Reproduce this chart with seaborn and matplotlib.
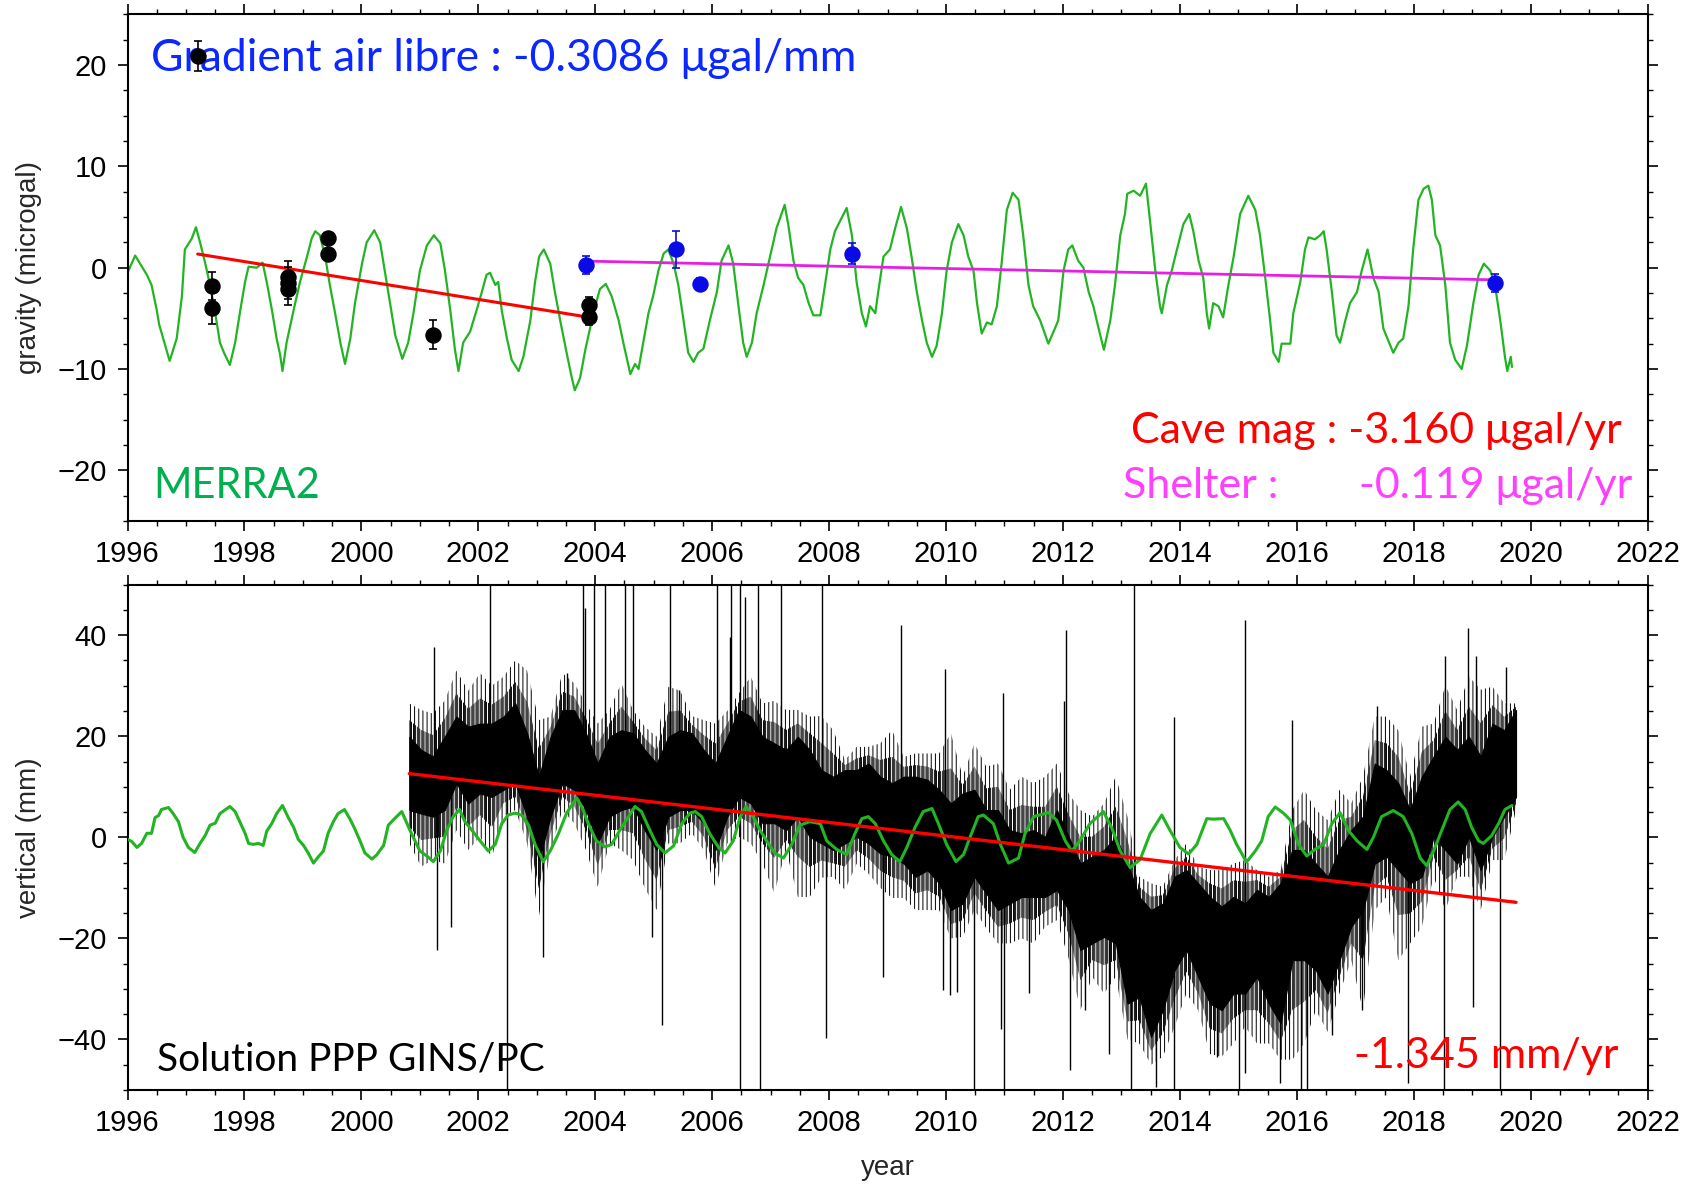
import numpy as np
import matplotlib
matplotlib.use("Agg")
import matplotlib.pyplot as plt
import seaborn as sns
from matplotlib.ticker import MultipleLocator

# ---------------- gravity panel ----------------
# MERRA2 hydrological gravity effect (microgal)
merra_grav_t = [
    1996.00, 1996.13, 1996.33, 1996.41, 1996.50, 1996.54, 1996.72, 1996.84, 1996.93, 1996.98,
    1997.10, 1997.17, 1997.24, 1997.33, 1997.41, 1997.50, 1997.58, 1997.65, 1997.75, 1997.84,
    1997.92, 1998.01, 1998.07, 1998.21, 1998.31, 1998.38, 1998.47, 1998.55, 1998.61, 1998.65,
    1998.72, 1998.84, 1998.95, 1999.07, 1999.15, 1999.21, 1999.29, 1999.38, 1999.46, 1999.55,
    1999.64, 1999.72, 1999.81, 1999.89, 2000.01, 2000.09, 2000.22, 2000.32, 2000.40, 2000.49,
    2000.58, 2000.70, 2000.80, 2000.89, 2001.00, 2001.12, 2001.24, 2001.35, 2001.43, 2001.52,
    2001.60, 2001.66, 2001.74, 2001.86, 2001.97, 2002.06, 2002.14, 2002.20, 2002.29, 2002.34,
    2002.40, 2002.49, 2002.57, 2002.69, 2002.77, 2002.89, 2002.97, 2003.04, 2003.12, 2003.23,
    2003.31, 2003.40, 2003.51, 2003.60, 2003.65, 2003.74, 2003.83, 2003.91, 2004.00, 2004.08,
    2004.18, 2004.28, 2004.40, 2004.48, 2004.60, 2004.68, 2004.74, 2004.82, 2004.91, 2004.99,
    2005.08, 2005.17, 2005.25, 2005.34, 2005.42, 2005.51, 2005.59, 2005.68, 2005.76, 2005.85,
    2005.96, 2006.08, 2006.16, 2006.28, 2006.36, 2006.45, 2006.53, 2006.59, 2006.68, 2006.76,
    2006.88, 2006.99, 2007.10, 2007.24, 2007.30, 2007.39, 2007.47, 2007.56, 2007.65, 2007.73,
    2007.85, 2007.93, 2008.02, 2008.10, 2008.30, 2008.39, 2008.47, 2008.56, 2008.63, 2008.70,
    2008.79, 2008.84, 2008.93, 2009.04, 2009.13, 2009.23, 2009.33, 2009.41, 2009.50, 2009.59,
    2009.67, 2009.76, 2009.84, 2009.93, 2010.01, 2010.10, 2010.21, 2010.30, 2010.38, 2010.47,
    2010.53, 2010.61, 2010.70, 2010.78, 2010.87, 2010.95, 2011.04, 2011.14, 2011.24, 2011.32,
    2011.41, 2011.49, 2011.61, 2011.75, 2011.84, 2011.92, 2012.01, 2012.09, 2012.16, 2012.26,
    2012.35, 2012.44, 2012.52, 2012.61, 2012.70, 2012.81, 2012.89, 2012.98, 2013.06, 2013.10,
    2013.21, 2013.32, 2013.42, 2013.49, 2013.58, 2013.66, 2013.69, 2013.78, 2013.86, 2013.95,
    2014.06, 2014.16, 2014.23, 2014.32, 2014.40, 2014.46, 2014.50, 2014.57, 2014.66, 2014.74,
    2014.83, 2014.92, 2015.03, 2015.17, 2015.29, 2015.37, 2015.46, 2015.54, 2015.60, 2015.69,
    2015.74, 2015.89, 2015.94, 2016.06, 2016.14, 2016.20, 2016.31, 2016.40, 2016.46, 2016.51,
    2016.60, 2016.68, 2016.74, 2016.83, 2016.91, 2017.03, 2017.11, 2017.21, 2017.31, 2017.40,
    2017.48, 2017.65, 2017.74, 2017.82, 2017.91, 2017.99, 2018.08, 2018.17, 2018.25, 2018.31,
    2018.37, 2018.45, 2018.54, 2018.62, 2018.71, 2018.82, 2018.91, 2019.02, 2019.11, 2019.20,
    2019.31, 2019.39, 2019.48, 2019.56, 2019.60, 2019.66, 2019.68,
]
merra_grav_v = [
    -0.5, 1.2, -0.7, -1.7, -4.2, -5.6, -9.2, -7.0, -2.8, 1.8,
    2.9, 4.0, 2.5, 0.4, -1.7, -4.5, -7.4, -8.4, -9.6, -7.4,
    -4.5, -1.4, 0.1, 0.0, 0.5, -1.4, -4.2, -7.0, -8.6, -10.2,
    -7.4, -4.2, -1.4, 1.1, 2.9, 3.6, 3.2, 1.1, -1.7, -4.5,
    -7.4, -9.5, -7.0, -3.5, 0.4, 2.5, 3.7, 2.5, -0.3, -3.5,
    -6.7, -9.0, -7.4, -4.5, -0.3, 2.2, 3.2, 2.4, -0.3, -4.2,
    -8.1, -10.2, -7.4, -6.3, -4.2, -2.4, -0.7, -0.5, -1.7, -1.4,
    -4.2, -7.0, -9.1, -10.2, -8.8, -5.2, -1.4, 1.1, 1.8, 0.4,
    -2.4, -5.2, -8.4, -10.9, -12.1, -10.9, -8.1, -6.0, -3.8, -2.1,
    -1.6, -2.8, -5.2, -7.4, -10.5, -9.5, -10.0, -7.4, -4.5, -2.8,
    -0.3, 1.4, 1.8, 0.4, -1.7, -5.2, -8.4, -9.3, -8.4, -8.0,
    -5.2, -2.4, 0.7, 2.2, 0.4, -3.8, -7.4, -8.8, -7.4, -4.5,
    -1.7, 1.1, 3.9, 6.2, 4.3, 0.7, -1.0, -1.7, -3.5, -4.7,
    -4.7, -1.7, 1.8, 3.6, 5.9, 3.2, -1.4, -4.5, -5.8, -3.8,
    -4.5, -2.4, 1.1, 1.8, 3.9, 6.0, 3.9, 1.1, -2.4, -5.2,
    -7.4, -8.8, -7.7, -4.5, -0.3, 2.5, 4.3, 3.2, 1.1, -0.3,
    -3.5, -6.5, -5.4, -5.6, -3.8, 0.4, 5.7, 7.4, 6.7, 3.2,
    -1.7, -3.8, -5.2, -7.5, -6.3, -5.2, -0.3, 1.8, 2.2, 0.7,
    0.0, -2.4, -3.8, -6.0, -8.1, -5.2, -1.7, 3.2, 5.3, 7.3,
    7.6, 7.1, 8.3, 4.6, -0.3, -3.8, -4.5, -1.7, -0.3, 1.8,
    4.3, 5.3, 3.6, 0.7, -1.0, -4.5, -6.0, -3.5, -3.8, -4.9,
    -1.7, 1.1, 5.3, 7.1, 5.7, 3.2, -1.0, -5.0, -8.4, -9.3,
    -7.5, -7.5, -4.5, -1.4, 1.8, 3.0, 2.8, 3.2, 3.6, 1.8,
    -2.4, -6.7, -7.4, -5.2, -3.5, -2.4, -0.3, 1.8, -1.0, -2.4,
    -6.0, -8.4, -7.4, -7.0, -3.8, 1.8, 6.7, 7.8, 8.1, 6.7,
    3.2, 2.2, -1.7, -7.4, -9.1, -10.0, -7.7, -3.5, -0.7, 0.4,
    -0.3, -1.7, -5.2, -8.8, -10.2, -8.8, -9.8,
]

# absolute gravity measurements: cave magnetometer room (black) and shelter (blue)
cave_t = [1997.21, 1997.45, 1997.45, 1998.75, 1998.75, 1998.75, 1999.43, 1999.43, 2001.23, 2003.90, 2003.90]
cave_v = [20.9, -1.8, -4.0, -0.9, -1.5, -2.1, 2.9, 1.4, -6.6, -3.7, -4.9]
cave_err = [1.5, 1.4, 1.6, 1.6, 1.6, 1.6, 0.4, 0.4, 1.4, 0.8, 0.8]

shelter_t = [2003.85, 2005.38, 2005.79, 2008.40, 2019.39]
shelter_v = [0.3, 1.8, -1.65, 1.4, -1.5]
shelter_err = [0.9, 1.8, 0.6, 1.0, 0.9]

# fitted trends
cave_trend_t = [1997.2, 2003.9]
cave_trend_v = [1.35, -4.9]
shelter_trend_t = [2003.85, 2019.4]
shelter_trend_start = 0.65
shelter_rate = -0.119          # microgal / yr

# ---------------- vertical GPS panel ----------------
merra_vert_t = [
    1996.00, 1996.07, 1996.16, 1996.24, 1996.33, 1996.41, 1996.47, 1996.53, 1996.58, 1996.70,
    1996.78, 1996.87, 1996.95, 1997.04, 1997.15, 1997.24, 1997.33, 1997.41, 1997.50, 1997.58,
    1997.75, 1997.84, 1997.92, 1998.01, 1998.07, 1998.15, 1998.24, 1998.32, 1998.38, 1998.47,
    1998.55, 1998.65, 1998.75, 1998.84, 1998.92, 1999.01, 1999.09, 1999.18, 1999.26, 1999.35,
    1999.43, 1999.52, 1999.60, 1999.71, 1999.81, 1999.89, 1999.98, 2000.06, 2000.18, 2000.26,
    2000.38, 2000.46, 2000.55, 2000.69, 2000.83, 2001.00, 2001.12, 2001.23, 2001.35, 2001.46,
    2001.57, 2001.68, 2001.77, 2001.89, 2002.03, 2002.17, 2002.29, 2002.40, 2002.51, 2002.63,
    2002.74, 2002.86, 2002.97, 2003.11, 2003.23, 2003.37, 2003.51, 2003.68, 2003.77, 2003.88,
    2004.02, 2004.17, 2004.28, 2004.42, 2004.57, 2004.68, 2004.79, 2004.91, 2005.05, 2005.19,
    2005.34, 2005.48, 2005.62, 2005.71, 2005.82, 2005.96, 2006.11, 2006.22, 2006.36, 2006.48,
    2006.58, 2006.70, 2006.82, 2006.93, 2007.07, 2007.22, 2007.36, 2007.50, 2007.67, 2007.85,
    2007.96, 2008.13, 2008.30, 2008.44, 2008.56, 2008.67, 2008.79, 2008.93, 2009.07, 2009.21,
    2009.33, 2009.47, 2009.61, 2009.76, 2009.87, 2010.01, 2010.17, 2010.30, 2010.41, 2010.55,
    2010.64, 2010.81, 2010.93, 2011.07, 2011.24, 2011.35, 2011.50, 2011.75, 2011.89, 2012.04,
    2012.15, 2012.29, 2012.46, 2012.69, 2012.83, 2012.98, 2013.15, 2013.32, 2013.49, 2013.69,
    2013.83, 2014.00, 2014.15, 2014.29, 2014.46, 2014.57, 2014.75, 2014.86, 2014.97, 2015.14,
    2015.29, 2015.40, 2015.51, 2015.63, 2015.77, 2015.89, 2016.03, 2016.17, 2016.31, 2016.46,
    2016.60, 2016.74, 2016.88, 2017.03, 2017.20, 2017.31, 2017.45, 2017.65, 2017.82, 2017.97,
    2018.11, 2018.22, 2018.34, 2018.48, 2018.62, 2018.76, 2018.88, 2018.99, 2019.11, 2019.19,
    2019.33, 2019.45, 2019.56, 2019.68,
]
merra_vert_v = [
    -0.4, -0.8, -2.0, -1.2, 0.8, 0.8, 3.9, 4.3, 5.5, 5.9,
    4.7, 3.1, 0.0, -2.0, -3.0, -1.2, 0.4, 2.4, 2.8, 4.7,
    6.1, 5.1, 3.1, 0.8, -1.2, -1.4, -1.2, -1.6, 1.2, 2.8,
    4.7, 6.3, 3.9, 2.0, -0.4, -1.6, -3.1, -5.1, -3.9, -2.7,
    0.8, 3.1, 4.7, 5.5, 3.5, 1.6, -0.8, -3.1, -4.3, -3.5,
    -1.6, 2.4, 3.5, 5.1, 1.4, -2.7, -3.7, -4.8, -2.7, 1.4,
    4.1, 5.5, 3.1, 1.4, -0.7, -2.7, -1.4, 2.7, 4.4, 4.8,
    4.4, 2.4, -1.4, -4.8, -2.7, 0.7, 4.8, 7.8, 6.1, 2.7,
    -0.7, -1.9, -1.4, 1.4, 4.1, 6.1, 5.1, 2.0, -1.4, -3.1,
    -1.7, 2.7, 4.8, 5.1, 4.1, 0.7, -2.0, -3.1, -0.7, 4.1,
    6.1, 4.1, 1.4, -0.7, -3.1, -4.1, -1.4, 2.4, 3.1, 2.7,
    -0.7, -2.4, -3.4, 0.7, 3.7, 4.1, 2.7, -0.7, -3.4, -4.8,
    -2.0, 2.0, 5.1, 5.7, 2.7, -1.4, -4.8, -3.4, 0.0, 4.1,
    4.4, 2.7, -1.4, -5.1, -4.1, 0.7, 4.1, 4.9, 3.4, -0.7,
    -2.7, -0.7, 2.7, 5.1, 2.0, -2.7, -6.0, -4.4, 0.7, 4.4,
    1.4, -2.0, -3.3, -1.4, 3.7, 3.6, 3.7, 1.4, -1.4, -4.9,
    -2.7, -0.7, 4.1, 6.0, 4.8, 3.4, -1.4, -3.7, -2.4, -1.4,
    2.7, 4.9, 1.4, -0.7, -2.4, 0.0, 4.1, 5.3, 4.1, 0.7,
    -4.1, -5.6, -2.7, 1.4, 5.5, 7.0, 5.5, 2.0, -0.7, -1.2,
    0.3, 2.7, 5.5, 6.3,
]

# GINS/PC PPP daily heights, summarised every ~0.2 yr:
# dense band (core) and extent of the scatter (outer), in mm
gps_core_hi = [
    19.9, 17.3, 16.0, 19.9, 23.9, 21.9, 22.5, 22.5, 23.9, 26.5,
    20.6, 12.0, 19.9, 25.2, 25.2, 20.6, 14.6, 19.9, 21.2, 20.6,
    17.3, 14.6, 19.9, 21.2, 20.6, 17.3, 14.6, 19.9, 25.2, 23.9,
    19.9, 18.6, 17.3, 19.9, 17.3, 13.3, 12.0, 13.3, 13.3, 14.6,
    12.0, 10.7, 12.0, 12.0, 11.4, 9.4, 6.7, 8.7, 9.4, 5.4,
    5.4, 1.4, 0.8, 1.4, 0.1, 5.4, 0.1, -5.2, -3.8, -2.5,
    0.1, -5.2, -11.8, -14.4, -13.1, -7.8, -6.5, -9.1, -11.8, -13.7,
    -11.8, -13.1, -10.4, -11.8, -9.1, -2.5, -2.5, -5.2, -7.8, -2.5,
    1.4, 4.1, 14.6, 13.3, 10.7, 5.4, 12.0, 16.0, 19.9, 17.3,
    19.9, 16.0, 22.5, 21.2, 25.2,
]
gps_core_lo = [
    5.4, 4.7, 4.1, 5.4, 10.7, 6.7, 8.7, 8.0, 9.4, 10.7,
    4.1, -4.5, 4.1, 10.7, 9.4, 5.4, -1.2, 4.1, 5.4, 6.1,
    1.4, -2.5, 4.1, 5.4, 5.4, 2.8, -2.5, 4.1, 8.0, 6.7,
    2.8, 2.8, 1.4, 4.1, 0.1, -1.2, -2.5, -1.2, 0.1, -1.2,
    -3.2, -3.8, -5.2, -7.8, -6.5, -9.1, -14.4, -13.1, -7.8, -11.1,
    -14.4, -13.1, -11.8, -11.8, -11.8, -10.4, -14.4, -22.3, -21.0, -19.7,
    -21.0, -32.9, -31.6, -39.5, -34.2, -26.3, -22.3, -27.6, -32.9, -34.2,
    -30.9, -30.9, -27.6, -32.9, -36.8, -24.3, -24.3, -26.3, -30.9, -24.3,
    -17.7, -14.4, -5.2, -3.8, -6.5, -9.1, -7.8, 0.1, -2.5, -5.2,
    0.1, -6.5, 0.1, 4.1, 8.0,
]
gps_outer_hi = [
    26.5, 25.2, 24.5, 27.0, 33.0, 29.0, 32.5, 30.0, 31.8, 35.0,
    33.0, 23.2, 23.9, 32.5, 30.5, 26.5, 22.5, 25.2, 30.5, 25.2,
    21.9, 19.9, 29.8, 29.0, 24.0, 23.2, 22.5, 25.0, 28.5, 31.8,
    26.5, 27.0, 25.2, 25.2, 23.9, 24.0, 21.2, 15.3, 17.9, 17.9,
    18.6, 21.2, 15.9, 16.6, 16.6, 16.6, 20.6, 12.0, 18.6, 14.0,
    14.6, 9.4, 12.0, 10.7, 12.0, 14.6, 8.7, 5.4, 4.1, 6.7,
    12.0, 4.1, -7.8, -9.1, -9.8, -4.5, -1.2, -5.8, -6.5, -6.5,
    -5.2, -4.5, -6.5, -7.8, -6.5, 5.4, 9.4, 5.4, 3.4, 9.4,
    6.7, 12.0, 23.9, 23.9, 21.2, 12.0, 21.9, 22.5, 30.0, 25.2,
    31.8, 29.2, 29.8, 26.5, 26.5,
]
gps_outer_lo = [
    -1.2, -5.8, -4.5, -5.2, 1.4, -2.5, 0.1, -4.0, 4.1, 5.4,
    -1.2, -15.7, -2.5, 5.4, 2.8, -2.5, -9.8, -1.2, -2.5, -4.5,
    -10.0, -14.4, -1.2, -1.2, 0.8, -2.5, -10.0, -1.2, 0.1, -1.2,
    -5.2, -11.0, -2.5, -11.8, -11.8, -8.0, -7.8, -10.4, -5.2, -7.2,
    -10.0, -12.0, -12.0, -14.4, -14.4, -14.4, -20.0, -19.7, -14.4, -18.0,
    -21.0, -21.0, -20.0, -21.0, -17.7, -16.4, -24.0, -34.2, -27.6, -30.9,
    -27.6, -40.0, -40.8, -45.0, -43.4, -37.5, -30.9, -34.2, -42.9, -43.4,
    -40.8, -37.5, -40.8, -40.8, -44.0, -44.0, -40.8, -34.2, -38.5, -30.9,
    -24.3, -34.2, -14.4, -11.8, -24.3, -21.0, -17.7, -7.8, -14.4, -7.8,
    -7.8, -14.4, -4.5, -4.5, 5.4,
]
gps_start, gps_end = 2000.82, 2019.75

# isolated outliers (year, mm)
spike_t = [
    2001.25, 2001.29, 2001.53, 2002.20, 2002.49, 2003.11, 2003.51, 2003.79, 2003.83, 2003.98,
    2004.17, 2004.51, 2004.65, 2004.97, 2005.15, 2005.27, 2005.43, 2006.08, 2006.30, 2006.32,
    2006.47, 2006.47, 2006.56, 2006.79, 2006.81, 2007.17, 2007.87, 2007.95, 2008.92, 2009.23,
    2009.95, 2009.98, 2010.06, 2010.18, 2010.47, 2010.94, 2010.97, 2010.99, 2011.42, 2012.02,
    2012.06, 2012.12, 2012.38, 2012.79, 2013.16, 2013.22, 2013.59, 2013.90, 2013.90, 2014.64,
    2015.01, 2015.11, 2015.11, 2015.71, 2015.91, 2016.07, 2016.17, 2016.60, 2017.11, 2017.37,
    2017.91, 2018.51, 2018.54, 2018.92, 2019.02, 2019.06, 2019.48, 2019.58,
]
spike_v = [
    37.7, -22.3, -17.7, 55, -55, -23.6, 32.5, 55, 45.3, 55,
    55, 55, 55, -19.7, -37.2, 55, 29.2, 55, 39.7, 55,
    55, -55, 47.6, 55, -55, 55, 55, -39.8, -27.6, 42.0,
    -30.2, 33.4, -31.2, -30.6, -55, -38.0, 28.5, -55, -30.9, 27.0,
    41.0, -46.0, -34.2, -42.9, -55, 55, -49.4, 23.9, -55, -43.4,
    -55, 43.0, -46.7, -48.7, 23.2, -55, -55, -39.2, -34.2, 25.9,
    -48.7, -55, 35.8, 41.4, -33.5, 35.8, -55, 33.8,
]

gps_trend_start = 12.6
gps_rate = -1.345             # mm / yr

# ---------------- styling ----------------
GREEN = "#22b422"
RED = "#ff0000"
MAGENTA = "#e61ee6"
BLUE = "#0a0ae6"

sns.set_theme(style="ticks")
plt.rcParams["font.family"] = ["Liberation Sans", "DejaVu Sans"]
plt.rcParams["hatch.linewidth"] = 0.7
plt.rcParams["axes.unicode_minus"] = True

fig = plt.figure(figsize=(16.94, 11.84), dpi=100)
ax1 = fig.add_axes([0.0753, 0.5600, 0.8973, 0.4278])
ax2 = fig.add_axes([0.0753, 0.0794, 0.8973, 0.4268])

TICK_FS = 21
LABEL_FS = 20


def frame(ax, ymin, ymax, ymaj, ymin_step):
    ax.set_xlim(1996, 2022)
    ax.set_ylim(ymin, ymax)
    ax.xaxis.set_major_locator(MultipleLocator(2))
    ax.xaxis.set_minor_locator(MultipleLocator(0.5))
    ax.yaxis.set_major_locator(MultipleLocator(ymaj))
    ax.yaxis.set_minor_locator(MultipleLocator(ymin_step))
    ax.tick_params(which="both", direction="out", top=True, right=True,
                   labeltop=False, labelright=False, colors="black", labelsize=TICK_FS)
    ax.tick_params(which="major", length=7, width=1.2)
    ax.tick_params(which="minor", length=3.5, width=1.0)
    ax.tick_params(axis="x", pad=7)
    ax.tick_params(axis="y", pad=8)
    for s in ax.spines.values():
        s.set_linewidth(1.5)
        s.set_color("black")
    ax.grid(False)
    ax.set_facecolor("white")


frame(ax1, -25, 25, 10, 2.5)
frame(ax2, -50, 50, 20, 5)

# ---- top panel ----
sns.lineplot(x=merra_grav_t, y=merra_grav_v, ax=ax1, color=GREEN, lw=1.6,
             sort=False, estimator=None, zorder=2)
sns.lineplot(x=cave_trend_t, y=cave_trend_v, ax=ax1, color=RED, lw=2.2,
             sort=False, estimator=None, zorder=3)
sh_t = np.array(shelter_trend_t)
sh_v = shelter_trend_start + shelter_rate * (sh_t - sh_t[0])
sns.lineplot(x=sh_t, y=sh_v, ax=ax1, color=MAGENTA, lw=2.0,
             sort=False, estimator=None, zorder=3)

ax1.errorbar(cave_t, cave_v, yerr=cave_err, fmt="none", ecolor="black",
             elinewidth=1.2, capsize=3, capthick=1.2, zorder=4)
ax1.errorbar(shelter_t, shelter_v, yerr=shelter_err, fmt="none", ecolor=BLUE,
             elinewidth=1.2, capsize=3, capthick=1.2, zorder=4)
sns.scatterplot(x=cave_t, y=cave_v, ax=ax1, color="black", s=140,
                linewidth=0, zorder=5)
sns.scatterplot(x=shelter_t, y=shelter_v, ax=ax1, color=BLUE, s=140,
                linewidth=0, zorder=5)

ax1.set_xlabel("")
ax1.set_ylabel("gravity (microgal)", fontsize=LABEL_FS)
ax1.yaxis.set_label_coords(-0.056, 0.5)

note_font = ["Lato", "DejaVu Sans"]
ax1.text(0.0155, 0.8877, "Gradient air libre : -0.3086 \u03bcgal/mm", transform=ax1.transAxes,
         color="#0a28ff", fontsize=32, family=note_font, va="baseline", ha="left", zorder=1)
ax1.text(0.0168, 0.0454, "MERRA2", transform=ax1.transAxes,
         color="#00b050", fontsize=30, family=note_font, va="baseline", ha="left", zorder=1)
ax1.text(0.983, 0.154, "Cave mag : -3.160 \u03bcgal/yr", transform=ax1.transAxes,
         color=RED, fontsize=31, family=note_font, va="baseline", ha="right", zorder=1)
ax1.text(0.655, 0.0454, "Shelter :", transform=ax1.transAxes,
         color="#ff40ff", fontsize=31, family=note_font, va="baseline", ha="left", zorder=1)
ax1.text(0.9896, 0.0454, "-0.119 \u03bcgal/yr", transform=ax1.transAxes,
         color="#ff40ff", fontsize=31, family=note_font, va="baseline", ha="right", zorder=1)

# ---- bottom panel ----
gps_t = np.linspace(gps_start, gps_end, len(gps_core_hi))
core_lo = np.array(gps_core_lo)
core_hi = np.array(gps_core_hi)
out_lo = np.array(gps_outer_lo)
out_hi = np.array(gps_outer_hi)
# scatter of the daily solutions: sparse outer fringe, denser next to the band
ax2.fill_between(gps_t, out_lo, out_hi, facecolor="none",
                 edgecolor="black", hatch="||||", linewidth=0, zorder=2)
ax2.fill_between(gps_t, (out_lo + core_lo) / 2, (out_hi + core_hi) / 2, facecolor="none",
                 edgecolor="black", hatch="||||||||", linewidth=0, zorder=2.05)
ax2.fill_between(gps_t, core_lo, core_hi, color="black", lw=0.8, zorder=2.1)
mid = (core_lo + core_hi) / 2
spike_base = np.interp(spike_t, gps_t, mid)
ax2.vlines(spike_t, spike_base, spike_v, color="black", lw=1.0, zorder=2.2)

sns.lineplot(x=merra_vert_t, y=merra_vert_v, ax=ax2, color=GREEN, lw=2.2,
             sort=False, estimator=None, zorder=3)
tr_t = np.array([gps_start, gps_end])
tr_v = gps_trend_start + gps_rate * (tr_t - gps_start)
sns.lineplot(x=tr_t, y=tr_v, ax=ax2, color=RED, lw=2.4, sort=False,
             estimator=None, zorder=4)

ax2.set_ylabel("vertical (mm)", fontsize=LABEL_FS)
ax2.yaxis.set_label_coords(-0.056, 0.5)
ax2.set_xlabel("year", fontsize=LABEL_FS)
ax2.xaxis.set_label_coords(0.5, -0.128)

ax2.text(0.0192, 0.0376, "Solution PPP GINS/PC", transform=ax2.transAxes,
         color="black", fontsize=28, family=note_font, va="baseline", ha="left", zorder=5)
ax2.text(0.9806, 0.0443, "-1.345 mm/yr", transform=ax2.transAxes,
         color=RED, fontsize=31, family=note_font, va="baseline", ha="right", zorder=5)

fig.savefig("out.png", dpi=100, facecolor="white")
